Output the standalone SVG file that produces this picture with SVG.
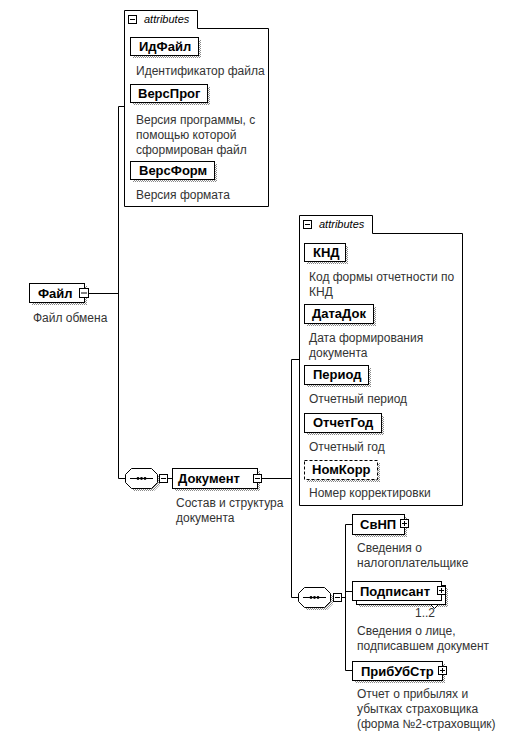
<svg xmlns="http://www.w3.org/2000/svg" width="513" height="737" viewBox="0 0 513 737">
<defs>
<pattern id="hatch" width="2" height="2" patternUnits="userSpaceOnUse"><rect width="2" height="2" fill="#fff"/><rect width="1" height="1" fill="#8a8a8a"/><rect x="1" y="1" width="1" height="1" fill="#8a8a8a"/></pattern>
<style>
.box{fill:#fff;stroke:#000;stroke-width:1}
.dash{fill:#fff;stroke:#000;stroke-width:1;stroke-dasharray:3,2}
.sh{fill:url(#hatch);stroke:none}
.ln{fill:none;stroke:#000;stroke-width:1}
.lbl{font-family:"Liberation Sans",Arial,sans-serif;font-size:13px;font-weight:bold;fill:#000}
.desc{font-family:"Liberation Sans",Arial,sans-serif;font-size:12px;fill:#333}
.att{font-family:"Liberation Sans",Arial,sans-serif;font-size:11px;font-style:italic;fill:#000}
.icon{fill:#fff;stroke:#000;stroke-width:1}
</style>
</defs>
<rect width="513" height="737" fill="#fff"/>

<g id="connectors">
<path class="ln" d="M88,293.5 H118.5 M118.5,106.5 V478.5 H125 M118.5,106.5 H124"/>
<path class="ln" d="M157,478.5 H159 M168,478.5 H172"/>
<path class="ln" d="M262,478.5 H291.5 M291.5,359.5 V597.5 H298 M291.5,359.5 H299"/>
<path class="ln" d="M330,597.5 H333 M342,597.5 H345.5 M345.5,524.5 V670.5 H352 M345.5,524.5 H352 M345.5,591.5 H352"/>
</g>

<g id="attributes1">
<path class="box" d="M124.5,10.5 H197.5 V28.5 H268.5 V206.5 H124.5 Z"/>
<rect class="icon" x="128.5" y="15.5" width="8" height="8"/>
<path class="ln" d="M130,19.5 H135"/>
<text class="att" x="144" y="23">attributes</text>
</g>

<g id="node-IdFajl">
<rect class="sh" x="133" y="40" width="68" height="18"/>
<rect class="box" x="130.5" y="37.5" width="68" height="18"/>
<text class="lbl" x="139" y="51">ИдФайл</text>
<text class="desc" x="136" y="75">Идентификатор файла</text>
</g>

<g id="node-VersProg">
<rect class="sh" x="133" y="87" width="77" height="18"/>
<rect class="box" x="130.5" y="84.5" width="77" height="18"/>
<text class="lbl" x="138" y="98">ВерсПрог</text>
<text class="desc" x="136" y="124">Версия программы, с</text>
<text class="desc" x="136" y="139">помощью которой</text>
<text class="desc" x="136" y="154">сформирован файл</text>
</g>

<g id="node-VersForm">
<rect class="sh" x="133" y="164" width="84" height="18"/>
<rect class="box" x="130.5" y="161.5" width="84" height="18"/>
<text class="lbl" x="139" y="175">ВерсФорм</text>
<text class="desc" x="136" y="199">Версия формата</text>
</g>

<g id="node-Fajl">
<rect class="sh" x="32" y="286" width="55" height="19"/>
<rect class="box" x="29.5" y="283.5" width="55" height="19"/>
<text class="lbl" x="38" y="298">Файл</text>
<rect class="icon" x="79.5" y="288.5" width="9" height="9"/>
<path class="ln" d="M81,293 H87"/>
<text class="desc" x="33" y="322">Файл обмена</text>
</g>

<g id="seq1">
<polygon class="sh" points="134,471 154,471 160,477 160,485 154,491 134,491 128,485 128,477"/>
<polygon class="box" points="131.5,468.5 151.5,468.5 157.5,474.5 157.5,482.5 151.5,488.5 131.5,488.5 125.5,482.5 125.5,474.5"/>
<path class="ln" d="M130,478.5 H153"/>
<circle cx="138" cy="478.5" r="1.4" fill="#000"/>
<circle cx="141.5" cy="478.5" r="1.4" fill="#000"/>
<circle cx="145" cy="478.5" r="1.4" fill="#000"/>
<rect class="icon" x="159.5" y="474.5" width="8" height="8"/>
<path class="ln" d="M161,478.5 H166"/>
</g>

<g id="node-Dokument">
<rect class="sh" x="175" y="471" width="85" height="20"/>
<rect class="box" x="172.5" y="468.5" width="85" height="20"/>
<text class="lbl" x="178" y="483">Документ</text>
<rect class="icon" x="253.5" y="474.5" width="8" height="8"/>
<path class="ln" d="M255,478.5 H260"/>
<text class="desc" x="176" y="507">Состав и структура</text>
<text class="desc" x="176" y="522">документа</text>
</g>

<g id="attributes2">
<path class="box" d="M299.5,215.5 H372.5 V233.5 H462.5 V505.5 H299.5 Z"/>
<rect class="icon" x="303.5" y="220.5" width="8" height="8"/>
<path class="ln" d="M305,224.5 H310"/>
<text class="att" x="319" y="228">attributes</text>
</g>

<g id="node-KND">
<rect class="sh" x="307" y="246" width="41" height="18"/>
<rect class="box" x="304.5" y="243.5" width="41" height="18"/>
<text class="lbl" x="313" y="257">КНД</text>
<text class="desc" x="309" y="281">Код формы отчетности по</text>
<text class="desc" x="309" y="296">КНД</text>
</g>

<g id="node-DataDok">
<rect class="sh" x="307" y="307" width="69" height="19"/>
<rect class="box" x="304.5" y="304.5" width="69" height="19"/>
<text class="lbl" x="312" y="318">ДатаДок</text>
<text class="desc" x="309" y="342">Дата формирования</text>
<text class="desc" x="309" y="357">документа</text>
</g>

<g id="node-Period">
<rect class="sh" x="307" y="368" width="64" height="19"/>
<rect class="box" x="304.5" y="365.5" width="64" height="19"/>
<text class="lbl" x="313" y="379">Период</text>
<text class="desc" x="309" y="403">Отчетный период</text>
</g>

<g id="node-OtchetGod">
<rect class="sh" x="307" y="416" width="77" height="19"/>
<rect class="box" x="304.5" y="413.5" width="77" height="19"/>
<text class="lbl" x="313" y="427">ОтчетГод</text>
<text class="desc" x="309" y="451">Отчетный год</text>
</g>

<g id="node-NomKorr">
<rect class="sh" x="307" y="463" width="73" height="19"/>
<rect class="dash" x="304.5" y="460.5" width="73" height="19"/>
<text class="lbl" x="312" y="474">НомКорр</text>
<text class="desc" x="309" y="497">Номер корректировки</text>
</g>

<g id="seq2">
<polygon class="sh" points="307,590 327,590 333,596 333,604 327,610 307,610 301,604 301,596"/>
<polygon class="box" points="304.5,587.5 324.5,587.5 330.5,593.5 330.5,601.5 324.5,607.5 304.5,607.5 298.5,601.5 298.5,593.5"/>
<path class="ln" d="M303,597.5 H326"/>
<circle cx="311" cy="597.5" r="1.4" fill="#000"/>
<circle cx="314.5" cy="597.5" r="1.4" fill="#000"/>
<circle cx="318" cy="597.5" r="1.4" fill="#000"/>
<rect class="icon" x="333.5" y="593.5" width="8" height="8"/>
<path class="ln" d="M335,597.5 H340"/>
</g>

<g id="node-SvNP">
<rect class="sh" x="355" y="517" width="52" height="20"/>
<rect class="box" x="352.5" y="514.5" width="52" height="20"/>
<text class="lbl" x="360" y="529">СвНП</text>
<rect class="icon" x="400.5" y="519.5" width="8" height="8"/>
<path class="ln" d="M402,523.5 H407 M404.5,521 V526"/>
<text class="desc" x="357" y="552">Сведения о</text>
<text class="desc" x="357" y="567">налогоплательщике</text>
</g>

<g id="node-Podpisant">
<rect class="sh" x="359" y="588" width="89" height="19"/>
<rect class="box" x="356.5" y="585.5" width="89" height="19"/>
<polygon class="box" points="430.5,604.5 434.5,608.5 438.5,604.5"/>
<rect class="box" x="352.5" y="581.5" width="89" height="19"/>
<text class="lbl" x="360" y="596">Подписант</text>
<rect class="icon" x="437.5" y="586.5" width="8" height="8"/>
<path class="ln" d="M439,590.5 H444 M441.5,588 V593"/>
<text class="desc" x="415" y="617">1..2</text>
<text class="desc" x="357" y="635">Сведения о лице,</text>
<text class="desc" x="357" y="650">подписавшем документ</text>
</g>

<g id="node-PribUbStr">
<rect class="sh" x="355" y="664" width="90" height="19"/>
<rect class="box" x="352.5" y="661.5" width="90" height="19"/>
<text class="lbl" x="361" y="676">ПрибУбСтр</text>
<rect class="icon" x="438.5" y="666.5" width="8" height="8"/>
<path class="ln" d="M440,670.5 H445 M442.5,668 V673"/>
<text class="desc" x="357" y="698">Отчет о прибылях и</text>
<text class="desc" x="357" y="713">убытках страховщика</text>
<text class="desc" x="357" y="728">(форма №2-страховщик)</text>
</g>
</svg>
